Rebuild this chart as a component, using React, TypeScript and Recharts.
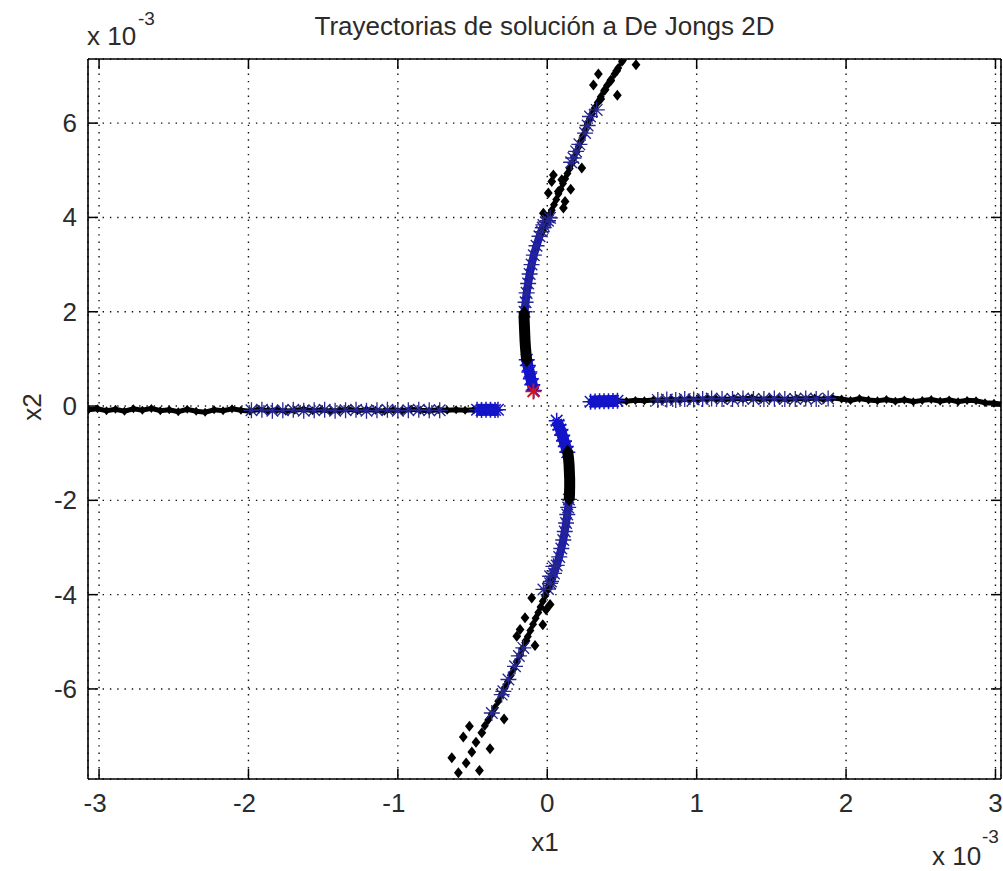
import React from 'react';
import { ScatterChart, Scatter, XAxis, YAxis, CartesianGrid } from 'recharts';

const FONT = '"Liberation Sans", Arial, Helvetica, sans-serif';
const TEXT = '#2b2b2b';

const xTicks = [-3, -2, -1, 0, 1, 2, 3];
const yTicks = [-6, -4, -2, 0, 2, 4, 6];
const xDomain: [number, number] = [-3.074, 3.037];
const yDomain: [number, number] = [-7.91, 7.36];

// ---- left arm (black trace) ----
const leftTrace = [
  [-3.07, -0.08], [-3.01, -0.06], [-2.95, -0.1], [-2.89, -0.07], [-2.83, -0.11], [-2.77, -0.06],
  [-2.71, -0.09], [-2.65, -0.05], [-2.59, -0.1], [-2.53, -0.08], [-2.47, -0.12], [-2.41, -0.07],
  [-2.35, -0.11], [-2.29, -0.13], [-2.23, -0.08], [-2.17, -0.1], [-2.11, -0.06], [-2.05, -0.09],
  [-1.99, -0.11], [-1.93, -0.07], [-1.87, -0.1], [-1.81, -0.08], [-1.75, -0.11], [-1.69, -0.09],
  [-1.63, -0.07], [-1.57, -0.1], [-1.51, -0.08], [-1.45, -0.11], [-1.39, -0.09], [-1.33, -0.07],
  [-1.27, -0.1], [-1.21, -0.08], [-1.15, -0.09], [-1.09, -0.11], [-1.03, -0.08], [-0.97, -0.1],
  [-0.91, -0.07], [-0.85, -0.09], [-0.79, -0.1], [-0.73, -0.08], [-0.67, -0.09], [-0.61, -0.08],
  [-0.55, -0.09], [-0.49, -0.08], [-0.43, -0.09], [-0.37, -0.08], [-0.33, -0.08],
];
const leftStars = [
  [-1.98, -0.09], [-1.91, -0.08], [-1.84, -0.1], [-1.77, -0.09], [-1.7, -0.08], [-1.63, -0.1],
  [-1.56, -0.09], [-1.49, -0.08], [-1.42, -0.1], [-1.35, -0.09], [-1.28, -0.08], [-1.21, -0.1],
  [-1.14, -0.09], [-1.07, -0.08], [-1.0, -0.1], [-0.93, -0.09], [-0.86, -0.08], [-0.79, -0.09],
  [-0.72, -0.09],
];
const leftBlob = [
  [-0.47, -0.08], [-0.44, -0.085], [-0.41, -0.08], [-0.38, -0.08], [-0.35, -0.085], [-0.33, -0.08],
];

// ---- right arm ----
const rightTrace = [
  [0.29, 0.09], [0.35, 0.1], [0.41, 0.09], [0.47, 0.11], [0.53, 0.1], [0.59, 0.12], [0.65, 0.11],
  [0.71, 0.13], [0.77, 0.12], [0.83, 0.14], [0.89, 0.13], [0.95, 0.15], [1.01, 0.14], [1.07, 0.16],
  [1.13, 0.15], [1.19, 0.14], [1.25, 0.16], [1.31, 0.15], [1.37, 0.17], [1.43, 0.14], [1.49, 0.16],
  [1.55, 0.15], [1.61, 0.14], [1.67, 0.16], [1.73, 0.15], [1.79, 0.17], [1.85, 0.14], [1.91, 0.17],
  [1.97, 0.15], [2.03, 0.12], [2.09, 0.16], [2.15, 0.13], [2.21, 0.11], [2.27, 0.14], [2.33, 0.1],
  [2.39, 0.13], [2.45, 0.09], [2.51, 0.12], [2.57, 0.14], [2.63, 0.1], [2.69, 0.13], [2.75, 0.09],
  [2.81, 0.12], [2.87, 0.11], [2.93, 0.07], [2.99, 0.06], [3.04, 0.04],
];
const rightStars = [
  [0.74, 0.13], [0.8, 0.14], [0.86, 0.13], [0.92, 0.15], [0.98, 0.14], [1.04, 0.15], [1.1, 0.16],
  [1.17, 0.15], [1.24, 0.15], [1.31, 0.16], [1.38, 0.15], [1.45, 0.15], [1.52, 0.16], [1.59, 0.15],
  [1.66, 0.15], [1.73, 0.16], [1.8, 0.15], [1.88, 0.16],
];
const rightBlob = [
  [0.29, 0.09], [0.32, 0.095], [0.35, 0.1], [0.38, 0.1], [0.41, 0.1], [0.44, 0.105], [0.47, 0.11],
];

// ---- upper arm ----
const upBlueNear = [
  [-0.09, 0.33], [-0.1, 0.45], [-0.11, 0.58], [-0.12, 0.72], [-0.13, 0.86], [-0.137, 0.98],
];
const upBlackNear = [
  [-0.137, 0.95], [-0.142, 1.1], [-0.146, 1.25], [-0.149, 1.4], [-0.151, 1.55], [-0.153, 1.7],
  [-0.155, 1.85], [-0.154, 2.0],
];
const upBlueMid = [
  [-0.152, 2.0], [-0.145, 2.2], [-0.138, 2.4], [-0.128, 2.6], [-0.118, 2.8], [-0.105, 3.0],
  [-0.09, 3.2], [-0.072, 3.4], [-0.052, 3.6], [-0.03, 3.78], [-0.01, 3.9], [0.01, 4.0],
];
const upTrace = [
  [-0.03, 3.72], [-0.015, 3.85], [0.0, 3.95], [0.015, 4.05], [0.03, 4.15], [0.045, 4.27],
  [0.06, 4.38], [0.075, 4.5], [0.09, 4.6], [0.105, 4.72], [0.12, 4.82], [0.135, 4.93],
  [0.15, 5.04], [0.165, 5.15], [0.18, 5.27], [0.195, 5.38], [0.21, 5.5], [0.225, 5.62],
  [0.24, 5.74], [0.255, 5.86], [0.27, 5.98], [0.285, 6.1], [0.3, 6.2], [0.318, 6.32],
  [0.338, 6.44], [0.358, 6.56], [0.38, 6.68], [0.4, 6.8], [0.425, 6.92], [0.45, 7.04],
  [0.475, 7.17], [0.5, 7.3],
];
const upStars = [
  [-0.037, 3.7], [-0.026, 3.84], [0.005, 3.93], [0.019, 3.99], [0.16, 5.17], [0.175, 5.26],
  [0.193, 5.4], [0.215, 5.55], [0.253, 5.79], [0.27, 5.95], [0.286, 6.14], [0.331, 6.28],
];
const upScatter = [
  [0.505, 7.34], [0.594, 7.24], [0.342, 7.04], [0.465, 7.11], [0.309, 6.81], [0.425, 6.9],
  [0.387, 6.71], [0.469, 6.59], [0.358, 6.51], [0.231, 5.05], [0.041, 4.9], [0.097, 4.8],
  [0.03, 4.76], [0.007, 4.52], [0.074, 4.55], [0.157, 4.6], [-0.026, 4.09], [0.119, 4.34],
  [0.108, 4.2],
];

// ---- lower arm ----
const downBlueNear = [
  [0.063, -0.31], [0.075, -0.4], [0.088, -0.5], [0.1, -0.62], [0.112, -0.74], [0.124, -0.86],
  [0.134, -0.98],
];
const downBlackNear = [
  [0.136, -0.95], [0.142, -1.1], [0.146, -1.25], [0.148, -1.4], [0.15, -1.55], [0.15, -1.7],
  [0.149, -1.85], [0.147, -2.0],
];
const downBlueMid = [
  [0.145, -1.98], [0.14, -2.15], [0.134, -2.3], [0.126, -2.48], [0.117, -2.66], [0.107, -2.84],
  [0.094, -3.02], [0.08, -3.2], [0.063, -3.38], [0.045, -3.55], [0.025, -3.72], [0.005, -3.88],
];
const downTrace = [
  [0.03, -3.68], [0.015, -3.8], [0.0, -3.92], [-0.015, -4.03], [-0.03, -4.14], [-0.045, -4.26],
  [-0.06, -4.38], [-0.078, -4.5], [-0.095, -4.63], [-0.113, -4.76], [-0.13, -4.89], [-0.148, -5.02],
  [-0.166, -5.15], [-0.185, -5.29], [-0.204, -5.43], [-0.224, -5.57], [-0.244, -5.71], [-0.264, -5.85],
  [-0.285, -5.98], [-0.306, -6.12], [-0.328, -6.26], [-0.35, -6.4], [-0.372, -6.53], [-0.395, -6.66],
  [-0.418, -6.78],
];
const downStars = [
  [0.041, -3.4], [0.019, -3.61], [0.019, -3.76], [-0.026, -3.89], [-0.16, -5.13], [-0.19, -5.3],
  [-0.216, -5.52], [-0.26, -5.8], [-0.294, -6.05], [-0.305, -6.12], [-0.371, -6.51],
];
const downScatter = [
  [-0.104, -4.07], [0.019, -4.21], [-0.008, -4.32], [-0.149, -4.49], [-0.03, -4.64], [-0.182, -4.74],
  [-0.204, -4.88], [-0.142, -4.98], [-0.082, -5.08], [-0.289, -6.64], [-0.521, -6.79], [-0.438, -6.93],
  [-0.562, -7.02], [-0.477, -7.13], [-0.383, -7.27], [-0.505, -7.34], [-0.639, -7.46], [-0.543, -7.57],
  [-0.454, -7.73], [-0.595, -7.78],
];

// ---- start point ----
const startPoint = [[-0.093, 0.31]];

const pts = (a: number[][]) => a.map(([x, y]) => ({ x, y }));

const BLUE = '#1414c8';
const NAVY = '#262690';
const RED = '#e01010';

const diamond = (r: number) => (p: any) => {
  const { cx, cy } = p;
  if (cx == null || cy == null) return <g />;
  return (
    <path
      d={`M${cx} ${cy - r}L${cx + r * 0.8} ${cy}L${cx} ${cy + r}L${cx - r * 0.8} ${cy}Z`}
      fill="#000"
    />
  );
};
const star = (color: string, r: number, w: number) => (p: any) => {
  const { cx, cy } = p;
  if (cx == null || cy == null) return <g />;
  const d = r * 0.72;
  return (
    <path
      d={`M${cx - r} ${cy}H${cx + r}M${cx} ${cy - r}V${cy + r}M${cx - d} ${cy - d}L${cx + d} ${cy + d}M${cx - d} ${cy + d}L${cx + d} ${cy - d}`}
      stroke={color}
      strokeWidth={w}
      fill="none"
    />
  );
};

const tickText = { fontSize: 26, fontFamily: FONT, fill: TEXT } as const;

const BottomTick = (p: any) => {
  const v = p.payload.value;
  return (
    <g>
      <line x1={p.x} x2={p.x} y1={p.y} y2={p.y - 10} stroke="#000" strokeWidth={1.5} />
      <text x={p.x + (v < 0 ? -4 : 0)} y={p.y + 33} textAnchor="middle" {...tickText}>
        {String(v)}
      </text>
    </g>
  );
};
const TopTick = (p: any) => (
  <line x1={p.x} x2={p.x} y1={p.y} y2={p.y + 10} stroke="#000" strokeWidth={1.5} />
);
const LeftTick = (p: any) => (
  <g>
    <line x1={p.x} x2={p.x + 10} y1={p.y} y2={p.y} stroke="#000" strokeWidth={1.5} />
    <text x={p.x - 11} y={p.y + 9} textAnchor="end" {...tickText}>
      {String(p.payload.value)}
    </text>
  </g>
);
const RightTick = (p: any) => (
  <line x1={p.x} x2={p.x - 10} y1={p.y} y2={p.y} stroke="#000" strokeWidth={1.5} />
);

const axisLine = { stroke: '#000', strokeWidth: 1.6 };

export default function App() {
  return (
    <div style={{ position: 'absolute', left: 0, top: 0, width: 1003, height: 871, background: '#fff' }}>
      <ScatterChart width={1003} height={871} margin={{ top: 49, right: 1, bottom: 32, left: 8 }}>
        <CartesianGrid stroke="#111" strokeWidth={1.4} strokeDasharray="1.4 5.9" />
        <XAxis
          type="number"
          dataKey="x"
          domain={xDomain}
          ticks={xTicks}
          allowDataOverflow
          height={60}
          tickSize={0}
          tickMargin={0}
          tickLine={false}
          axisLine={axisLine}
          tick={BottomTick}
          interval={0}
        />
        <XAxis
          xAxisId="top"
          orientation="top"
          type="number"
          dataKey="x"
          domain={xDomain}
          ticks={xTicks}
          allowDataOverflow
          height={10}
          tickSize={0}
          tickMargin={0}
          tickLine={false}
          axisLine={axisLine}
          tick={TopTick}
          interval={0}
        />
        <YAxis
          type="number"
          dataKey="y"
          domain={yDomain}
          ticks={yTicks}
          allowDataOverflow
          width={80}
          tickSize={0}
          tickMargin={0}
          tickLine={false}
          axisLine={axisLine}
          tick={LeftTick}
          interval={0}
        />
        <YAxis
          yAxisId="right"
          orientation="right"
          type="number"
          dataKey="y"
          domain={yDomain}
          ticks={yTicks}
          allowDataOverflow
          width={1}
          tickSize={0}
          tickMargin={0}
          tickLine={false}
          axisLine={axisLine}
          tick={RightTick}
          interval={0}
        />

        <Scatter data={pts(leftTrace)} line={{ stroke: '#000', strokeWidth: 5 }} shape={diamond(4.5)} isAnimationActive={false} />
        <Scatter data={pts(rightTrace)} line={{ stroke: '#000', strokeWidth: 5 }} shape={diamond(4.5)} isAnimationActive={false} />

        <Scatter data={pts(upBlueNear)} line={{ stroke: BLUE, strokeWidth: 11 }} shape={star(BLUE, 8, 1.5)} isAnimationActive={false} />
        <Scatter data={pts(upBlueMid)} line={{ stroke: BLUE, strokeWidth: 8 }} shape={star(NAVY, 8, 1.4)} isAnimationActive={false} />
        <Scatter data={pts(downBlueNear)} line={{ stroke: BLUE, strokeWidth: 11 }} shape={star(BLUE, 8, 1.5)} isAnimationActive={false} />
        <Scatter data={pts(downBlueMid)} line={{ stroke: BLUE, strokeWidth: 8 }} shape={star(NAVY, 8, 1.4)} isAnimationActive={false} />
        <Scatter data={pts(leftBlob)} line={{ stroke: BLUE, strokeWidth: 12 }} shape={star(BLUE, 8, 1.5)} isAnimationActive={false} />
        <Scatter data={pts(rightBlob)} line={{ stroke: BLUE, strokeWidth: 12 }} shape={star(BLUE, 8, 1.5)} isAnimationActive={false} />

        <Scatter data={pts(upTrace)} line={{ stroke: '#000', strokeWidth: 3 }} shape={diamond(5)} isAnimationActive={false} />
        <Scatter data={pts(downTrace)} line={{ stroke: '#000', strokeWidth: 3 }} shape={diamond(5)} isAnimationActive={false} />
        <Scatter data={pts(upScatter)} shape={diamond(5.5)} isAnimationActive={false} />
        <Scatter data={pts(downScatter)} shape={diamond(5.5)} isAnimationActive={false} />

        <Scatter data={pts(leftStars)} shape={star(NAVY, 8, 1.3)} isAnimationActive={false} />
        <Scatter data={pts(rightStars)} shape={star(NAVY, 8, 1.3)} isAnimationActive={false} />
        <Scatter data={pts(upStars)} shape={star(NAVY, 8, 1.3)} isAnimationActive={false} />
        <Scatter data={pts(downStars)} shape={star(NAVY, 8, 1.3)} isAnimationActive={false} />

        <Scatter data={pts(upBlackNear)} line={{ stroke: '#000', strokeWidth: 11 }} shape={diamond(6)} isAnimationActive={false} />
        <Scatter data={pts(downBlackNear)} line={{ stroke: '#000', strokeWidth: 11 }} shape={diamond(6)} isAnimationActive={false} />

        <Scatter xAxisId="top" yAxisId="right" data={pts(startPoint)} shape={star(RED, 8, 1.8)} isAnimationActive={false} />
      </ScatterChart>

      <svg
        width={1003}
        height={871}
        style={{ position: 'absolute', left: 0, top: 0, pointerEvents: 'none' }}
      >
        <text x={544.5} y={35} textAnchor="middle" fontSize={26} fontFamily={FONT} fill={TEXT}>
          Trayectorias de solución a De Jongs 2D
        </text>
        <text x={545} y={851} textAnchor="middle" fontSize={26} fontFamily={FONT} fill={TEXT}>
          x1
        </text>
        <text
          x={0}
          y={0}
          transform="translate(41 407) rotate(-90)"
          textAnchor="middle"
          fontSize={26}
          fontFamily={FONT}
          fill={TEXT}
        >
          x2
        </text>
        <text x={87} y={45} fontSize={26} fontFamily={FONT} fill={TEXT}>
          x 10
        </text>
        <text x={138} y={25} fontSize={19} fontFamily={FONT} fill={TEXT}>
          -3
        </text>
        <text x={932} y={865} fontSize={26} fontFamily={FONT} fill={TEXT}>
          x 10
        </text>
        <text x={982} y={843} fontSize={19} fontFamily={FONT} fill={TEXT}>
          -3
        </text>
      </svg>
    </div>
  );
}
